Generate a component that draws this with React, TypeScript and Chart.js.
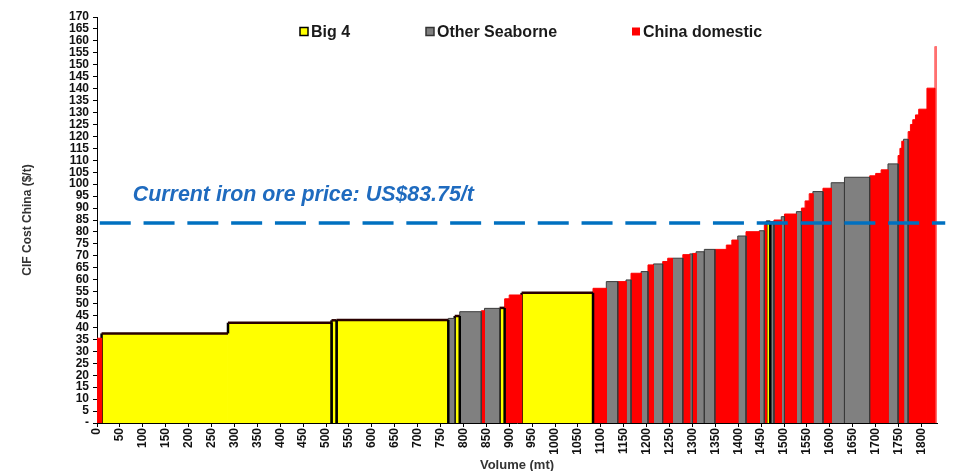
import React, { useEffect, useRef } from "react";
import { Chart, registerables } from "chart.js";
Chart.register(...registerables);

// Cost curve segments: volume start/end (mt), CIF cost (US$/t), producer group
const segStart = [0, 10, 286, 512, 523, 767, 781, 792, 839, 846, 879, 890, 900, 927, 1083, 1112, 1137, 1155, 1166, 1188, 1203, 1215, 1235, 1246, 1256, 1279, 1294, 1300, 1308, 1326, 1349, 1374, 1386, 1399, 1417, 1446, 1457, 1461, 1470, 1478, 1494, 1501, 1527, 1538, 1546, 1555, 1563, 1585, 1603, 1632, 1687, 1700, 1712, 1727, 1749, 1753, 1757, 1761, 1771, 1776, 1781, 1787, 1794, 1812, 1829];
const segEnd = [10, 286, 512, 523, 767, 781, 792, 839, 846, 879, 890, 900, 927, 1083, 1112, 1137, 1155, 1166, 1188, 1203, 1215, 1235, 1246, 1256, 1279, 1294, 1300, 1308, 1326, 1349, 1374, 1386, 1399, 1417, 1446, 1457, 1461, 1470, 1478, 1494, 1501, 1527, 1538, 1546, 1555, 1563, 1585, 1603, 1632, 1687, 1700, 1712, 1727, 1749, 1753, 1757, 1761, 1771, 1776, 1781, 1787, 1794, 1812, 1829, 1833];
const segCost = [35.5, 37.5, 42, 43, 43.1, 43.8, 44.8, 46.6, 47, 48, 48.2, 52, 53.6, 54.5, 56.4, 59.2, 59.2, 59.9, 62.7, 63.4, 66.2, 66.6, 67.6, 69, 69, 70.5, 70.8, 71, 71.7, 72.7, 72.7, 74.5, 76.6, 78.3, 80.1, 80.5, 83, 84.3, 84.3, 85, 86.4, 87.5, 88.5, 90, 93, 96, 96.9, 98.3, 100.6, 102.9, 103.5, 104.5, 106, 108.5, 112, 115, 118, 118.8, 122, 125, 127, 129, 131.4, 140.2, 157.6];
const segType = ["C", "B", "B", "B", "B", "O", "B", "O", "C", "O", "B", "C", "C", "B", "C", "O", "C", "O", "C", "O", "C", "O", "C", "C", "O", "C", "O", "C", "O", "O", "C", "C", "C", "O", "C", "O", "C", "B", "O", "C", "O", "C", "O", "C", "C", "C", "O", "C", "O", "O", "C", "C", "C", "O", "C", "C", "C", "O", "C", "C", "C", "C", "C", "C", "S"];
// segments whose outline joins the previous one (same asset, stepped cost)
const joinedSegments = [2];

const legendKeys = ["B", "O", "C"];
const legendLabels = ["Big 4", "Other Seaborne", "China domestic"];

const currentPrice = 83.75;
const priceLabel = "Current iron ore price: US$83.75/t";
const priceLabelAt = { x: 78, y: 93 };
const priceLineRange = [6, 1852];

const xMax = 1834;
const yMax = 170;

const styles: Record<string, { fill: string; side: string; top: string; width: number }> = {
  B: { fill: "#ffff00", side: "#000000", top: "#2a0000", width: 2.5 },
  O: { fill: "#808080", side: "#3a3a3a", top: "#3a3a3a", width: 1 },
  C: { fill: "#ff0000", side: "#ff0000", top: "#ff0000", width: 1 },
  S: { fill: "#ff7070", side: "#ff7070", top: "#ff7070", width: 1 },
};

const FONT = "'Liberation Sans', Arial, sans-serif";
const HIDDEN = "rgba(0,0,0,0)";

export default function App() {
  const ref = useRef<HTMLCanvasElement | null>(null);

  useEffect(() => {
    document.body.style.margin = "0";
    const canvas = ref.current;
    if (!canvas) return;
    Chart.defaults.font.family = FONT;

    const segDatasets = segStart.map((s, i) => {
      const st = styles[segType[i]];
      const h = segCost[i];
      const joinLeft = joinedSegments.includes(i);
      const joinRight = joinedSegments.includes(i + 1);
      const leftMid = joinLeft ? Math.min(h, segCost[i - 1]) : 0;
      const rightMid = joinRight ? Math.min(h, segCost[i + 1]) : 0;
      return {
        type: "line" as const,
        label: "seg" + i,
        data: [
          { x: s, y: 0 },
          { x: s, y: leftMid },
          { x: s, y: h },
          { x: segEnd[i], y: h },
          { x: segEnd[i], y: rightMid },
          { x: segEnd[i], y: 0 },
        ],
        fill: "origin",
        backgroundColor: st.fill,
        borderColor: st.side,
        borderWidth: st.width,
        segment: {
          borderColor: (ctx: any) => {
            const k = ctx.p0DataIndex;
            if (k === 0) return joinLeft ? HIDDEN : st.side;
            if (k === 1) return st.side;
            if (k === 2) return st.top;
            if (k === 3) return st.side;
            return joinRight ? HIDDEN : st.side;
          },
        },
        pointRadius: 0,
        tension: 0,
        order: 1,
      };
    });

    const priceDataset = {
      type: "line" as const,
      label: "price",
      data: [
        { x: priceLineRange[0], y: currentPrice },
        { x: priceLineRange[1], y: currentPrice },
      ],
      fill: false,
      borderColor: "#0070c0",
      borderWidth: 3.5,
      borderDash: [31, 12.8],
      pointRadius: 0,
      clip: false,
      order: -1,
    };

    const legendPlugin = {
      id: "customLegend",
      afterDraw(chart: any) {
        const ctx = chart.ctx;
        const xs = [300, 426, 632];
        const y = 31.5;
        ctx.save();
        ctx.font = "bold 16px " + FONT;
        ctx.textBaseline = "middle";
        ctx.textAlign = "left";
        legendKeys.forEach((k, i) => {
          const st = styles[k];
          ctx.fillStyle = st.fill;
          ctx.fillRect(xs[i], y - 4, 8, 8);
          if (k !== "C") {
            ctx.strokeStyle = k === "B" ? "#000" : "#333";
            ctx.lineWidth = 1.5;
            ctx.strokeRect(xs[i], y - 4, 8, 8);
          }
          ctx.fillStyle = "#1a1a1a";
          ctx.fillText(legendLabels[i], xs[i] + 11, y + 1);
        });
        ctx.restore();
      },
    };

    const labelPlugin = {
      id: "priceLabel",
      afterDatasetsDraw(chart: any) {
        const ctx = chart.ctx;
        const px = chart.scales.x.getPixelForValue(priceLabelAt.x);
        const py = chart.scales.y.getPixelForValue(priceLabelAt.y);
        ctx.save();
        ctx.font = "italic bold 21.4px " + FONT;
        ctx.fillStyle = "#1f6bbf";
        ctx.textBaseline = "alphabetic";
        ctx.textAlign = "left";
        ctx.fillText(priceLabel, px, py);
        ctx.restore();
      },
    };

    const chart = new Chart(canvas, {
      type: "line",
      data: { datasets: [priceDataset, ...segDatasets] as any },
      options: {
        responsive: false,
        animation: false,
        layout: { padding: { left: 20, right: 16, top: 17, bottom: 0 } },
        plugins: {
          legend: { display: false },
          tooltip: { enabled: false },
        },
        scales: {
          x: {
            type: "linear",
            min: 0,
            max: xMax,
            afterFit: (scale: any) => {
              scale.height = 48;
            },
            border: { display: true, color: "#000", width: 1 },
            grid: { drawOnChartArea: false, drawTicks: true, tickLength: 4, color: "#000" },
            ticks: {
              stepSize: 50,
              includeBounds: false,
              autoSkip: false,
              minRotation: 90,
              maxRotation: 90,
              padding: 1,
              color: "#111",
              font: { size: 12, weight: "bold", family: FONT },
              callback: (v: any) => String(v),
            },
            title: {
              display: true,
              text: "Volume (mt)",
              color: "#333",
              padding: { top: 0, bottom: -2 },
              font: { size: 13, weight: "bold", family: FONT },
            },
          },
          y: {
            type: "linear",
            min: 0,
            max: yMax,
            afterFit: (scale: any) => {
              scale.width = 77;
            },
            border: { display: true, color: "#000", width: 1 },
            grid: { drawOnChartArea: false, drawTicks: true, tickLength: 4, color: "#000" },
            ticks: {
              stepSize: 5,
              autoSkip: false,
              padding: 4,
              color: "#111",
              font: { size: 12, weight: "bold", family: FONT },
              callback: (v: any) => (Number(v) === 0 ? "-" : String(v)),
            },
            title: {
              display: true,
              text: "CIF Cost China ($/t)",
              color: "#333",
              padding: { top: 0, bottom: 0 },
              font: { size: 12, weight: "bold", family: FONT },
            },
          },
        },
      } as any,
      plugins: [legendPlugin, labelPlugin],
    });

    return () => chart.destroy();
  }, []);

  return (
    <div style={{ width: 953, height: 471 }}>
      <canvas ref={ref} width={953} height={471} style={{ display: "block", width: 953, height: 471 }} />
    </div>
  );
}
